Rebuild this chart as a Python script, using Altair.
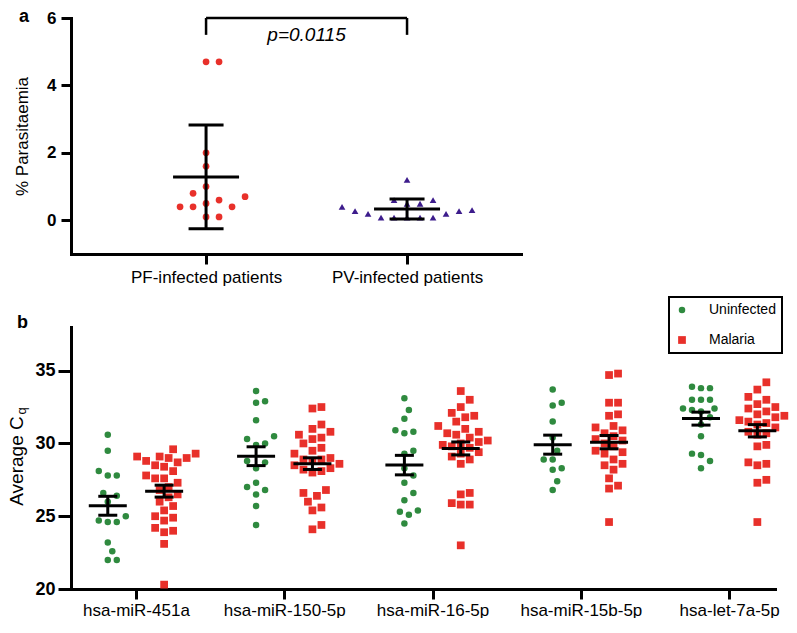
import altair as alt
import pandas as pd
import numpy as np

# ---------------- data: panel a ----------------
a_categories = ["PF-infected patients", "PV-infected patients"]
pf_values = [4.7, 4.7, 2.0, 1.6, 1.0, 0.8, 0.7, 0.6, 0.5, 0.4, 0.4, 0.4, 0.1, 0.1]
pv_values = [1.2, 0.6, 0.6, 0.49, 0.49, 0.4, 0.3, 0.27, 0.27, 0.19, 0.19,
             0.08, 0.08, 0.08, 0.08, 0.08]
p_value_text = "p=0.0115"
a_ticks = [0, 2, 4, 6]

# ---------------- data: panel b ----------------
mirnas = ["hsa-miR-451a", "hsa-miR-150-5p", "hsa-miR-16-5p", "hsa-miR-15b-5p", "hsa-let-7a-5p"]
groups = ["Uninfected", "Malaria"]
uninfected = [
    [30.6, 29.5, 28.1, 27.8, 27.8, 26.6, 26.4, 26.0, 25.0, 24.7, 24.6, 24.6, 23.2, 22.6, 22.0, 22.0],
    [33.6, 32.9, 32.8, 31.6, 30.5, 30.3, 30.0, 29.9, 28.8, 28.7, 28.3, 27.3, 27.0, 26.8, 26.5, 25.7, 24.4],
    [33.1, 32.3, 31.7, 30.9, 30.8, 30.7, 29.5, 29.3, 28.3, 27.8, 27.3, 26.6, 26.1, 25.4, 25.3, 25.1, 24.5],
    [33.7, 32.8, 32.6, 31.5, 30.4, 29.5, 28.9, 28.9, 28.3, 28.2, 27.4, 26.8],
    [33.9, 33.8, 33.8, 33.0, 33.0, 33.0, 32.4, 32.4, 32.3, 32.2, 31.8, 31.3, 30.5, 29.3, 29.2, 28.8, 28.3],
]
malaria = [
    [29.6, 29.3, 29.1, 29.1, 29.0, 29.0, 28.8, 28.7, 28.5, 28.4, 28.1, 27.8, 27.6, 27.6, 27.3, 27.0,
     26.8, 26.5, 26.3, 26.0, 25.7, 25.4, 25.0, 24.9, 24.7, 24.2, 24.0, 23.9, 23.1, 20.3],
    [32.5, 32.4, 31.3, 31.0, 30.8, 30.6, 30.4, 30.3, 30.0, 29.7, 29.5, 29.3, 29.0, 28.9, 28.8, 28.6,
     28.5, 28.3, 28.1, 28.9, 28.2, 28.0, 26.8, 26.6, 26.4, 26.0, 25.6, 25.4, 24.4, 24.1],
    [33.6, 33.0, 32.5, 32.1, 31.9, 31.8, 31.5, 31.2, 31.0, 30.8, 30.7, 30.6, 30.4, 30.2, 30.1, 30.0,
     29.9, 29.8, 29.7, 29.4, 29.3, 29.1, 28.9, 28.6, 26.6, 26.5, 25.9, 25.8, 25.8, 23.0],
    [34.8, 34.7, 32.8, 32.8, 32.0, 31.9, 31.2, 31.1, 30.9, 30.7, 30.5, 30.3, 30.2, 30.0, 29.8, 29.5,
     29.4, 29.3, 28.9, 28.6, 28.5, 28.2, 27.6, 27.1, 26.9, 24.6],
    [34.2, 33.7, 33.2, 33.0, 32.7, 32.5, 32.4, 32.2, 32.0, 31.9, 31.8, 31.6, 31.5, 31.4, 31.3, 31.1,
     30.8, 30.7, 30.6, 29.8, 29.9, 28.7, 28.6, 28.5, 27.5, 27.3, 24.6],
]
b_ticks = [20, 25, 30, 35]

# ---------------- styling / layout ----------------
FONT = "Liberation Sans"
RED = "#e8302a"
PURPLE = "#3d1c8c"
GREEN = "#2f8a3f"

W_A, H_A = 450, 236
XA_DOM = [-0.672, 1.567]
YA_DOM = [-1, 6]
W_B, H_B = 704, 262
XB_DOM = [-0.438, 4.309]
YB_DOM = [20, 38]
GROUP_SHIFT = 0.19

px_ax = W_A / (XA_DOM[1] - XA_DOM[0])
px_ay = H_A / (YA_DOM[1] - YA_DOM[0])
px_bx = W_B / (XB_DOM[1] - XB_DOM[0])
px_by = H_B / (YB_DOM[1] - YB_DOM[0])


def swarm(values, ppu, diameter, step):
    """Greedy beeswarm offsets (in pixels) computed from the values."""
    vals = np.asarray(values, dtype=float)
    order = np.argsort(vals, kind="stable")
    cands = [0.0]
    for j in range(1, 60):
        cands += [j * step, -j * step]
    placed = []
    offs = np.zeros(len(vals))
    for idx in order:
        yp = vals[idx] * ppu
        for c in cands:
            if all((c - px) ** 2 + (yp - py) ** 2 >= diameter ** 2 for py, px in placed):
                offs[idx] = c
                placed.append((yp, c))
                break
    return offs


# ---------------- panel a ----------------
rows = []
for ci, (cat, vals) in enumerate(zip(a_categories, [pf_values, pv_values])):
    offs = swarm(vals, px_ay, 13.0, 6.5)
    for v, o in zip(vals, offs):
        rows.append({"cat": cat, "ci": ci, "value": v, "x": ci + o / px_ax})
df_a = pd.DataFrame(rows)

label_a = "[" + ",".join("'%s'" % c for c in a_categories) + "][datum.value]"

xa_scale = alt.Scale(domain=XA_DOM, nice=False, zero=False)
ya_scale = alt.Scale(domain=YA_DOM, nice=False, zero=False)
xa_axis = alt.Axis(values=[0, 1], labelExpr=label_a, title=None, tickSize=10,
                   labelFontSize=17, labelPadding=5, labelFontWeight="normal")
ya_axis = alt.Axis(values=a_ticks, title="% Parasitaemia", tickSize=10, labelFontSize=17,
                   labelFontWeight="bold", labelPadding=5, titleFontSize=17,
                   titleFontWeight="normal", titlePadding=15)


def XA(f):
    return alt.X(f, scale=xa_scale, axis=xa_axis, title=None)


def YA(f):
    return alt.Y(f, scale=ya_scale, axis=ya_axis, title="% Parasitaemia")


pts_a = alt.Chart(df_a).mark_point(filled=True, opacity=1, size=45).encode(
    x=XA("x:Q"), y=YA("value:Q"),
    color=alt.Color("cat:N", scale=alt.Scale(domain=a_categories, range=[RED, PURPLE]), legend=None),
    shape=alt.Shape("cat:N", scale=alt.Scale(domain=a_categories, range=["circle", "triangle-up"]),
                    legend=None),
)

stats_a = alt.Chart(df_a).transform_aggregate(
    m="mean(value)", sd="stdev(value)", groupby=["ci"]
).transform_calculate(lo="datum.m - datum.sd", hi="datum.m + datum.sd")

mean_a = stats_a.mark_tick(orient="horizontal", size=66, thickness=3, color="black", opacity=1).encode(
    x=XA("ci:Q"), y=YA("m:Q"))
lo_a = stats_a.mark_tick(orient="horizontal", size=35, thickness=3, color="black", opacity=1).encode(
    x=XA("ci:Q"), y=YA("lo:Q"))
hi_a = stats_a.mark_tick(orient="horizontal", size=35, thickness=3, color="black", opacity=1).encode(
    x=XA("ci:Q"), y=YA("hi:Q"))
bar_a = stats_a.mark_rule(strokeWidth=3, color="black", opacity=1).encode(
    x=XA("ci:Q"), y=YA("lo:Q"), y2="hi:Q")

BR_TOP, BR_DROP = 6.0, 0.5
df_br = pd.DataFrame({"x": [0, 0, 1], "x2": [1, 0, 1],
                      "y": [BR_TOP, BR_TOP, BR_TOP],
                      "y2": [BR_TOP, BR_TOP - BR_DROP, BR_TOP - BR_DROP]})
bracket = alt.Chart(df_br).mark_rule(strokeWidth=2.5, color="black").encode(
    x=XA("x:Q"), x2="x2:Q", y=YA("y:Q"), y2="y2:Q")
ptext = alt.Chart(pd.DataFrame({"t": [p_value_text], "x": [0.5], "y": [BR_TOP - BR_DROP]})).mark_text(
    font=FONT, fontSize=19, fontStyle="italic", color="black", baseline="middle").encode(
    x=XA("x:Q"), y=YA("y:Q"), text="t:N")
lab_a = alt.Chart(pd.DataFrame({"t": ["a"]})).mark_text(
    font=FONT, fontSize=18, fontWeight="bold", color="black", align="left", baseline="middle").encode(
    x=alt.value(-52), y=alt.value(-1), text="t:N")

panel_a = alt.layer(pts_a, bar_a, mean_a, lo_a, hi_a, bracket, ptext, lab_a).properties(
    width=W_A, height=H_A)

# ---------------- panel b ----------------
rows = []
for mi, name in enumerate(mirnas):
    for g, series in zip(groups, [uninfected, malaria]):
        vals = series[mi]
        xc = mi + (-GROUP_SHIFT if g == groups[0] else GROUP_SHIFT)
        offs = swarm(vals, px_by, 9.0, 4.5)
        for v, o in zip(vals, offs):
            rows.append({"mirna": name, "group": g, "xc": xc, "value": v, "x": xc + o / px_bx})
df_b = pd.DataFrame(rows)

label_b = "[" + ",".join("'%s'" % c for c in mirnas) + "][datum.value]"
xb_scale = alt.Scale(domain=XB_DOM, nice=False, zero=False)
yb_scale = alt.Scale(domain=YB_DOM, nice=False, zero=False)
xb_axis = alt.Axis(values=list(range(len(mirnas))), labelExpr=label_b, title=None,
                   tickSize=10, labelFontSize=17, labelPadding=3, labelFontWeight="normal")
yb_axis = alt.Axis(values=b_ticks, title=None, tickSize=13, labelFontSize=18,
                   labelFontWeight="bold", labelPadding=3)


def XB(f):
    return alt.X(f, scale=xb_scale, axis=xb_axis, title=None)


def YB(f):
    return alt.Y(f, scale=yb_scale, axis=yb_axis, title=None)


leg = alt.Legend(title=None, orient="none", legendX=598, legendY=-30, labelFontSize=14,
                 labelFont=FONT, labelColor="black", symbolSize=30, rowPadding=16, padding=6,
                 strokeColor="black", labelOffset=20, symbolStrokeWidth=0)

pts_b = alt.Chart(df_b).mark_point(filled=True, opacity=1).encode(
    x=XB("x:Q"), y=YB("value:Q"),
    color=alt.Color("group:N", scale=alt.Scale(domain=groups, range=[GREEN, RED]), legend=leg),
    shape=alt.Shape("group:N", scale=alt.Scale(domain=groups, range=["circle", "square"]), legend=leg),
    size=alt.Size("group:N", scale=alt.Scale(domain=groups, range=[42, 60]), legend=None),
)

stats_b = alt.Chart(df_b).transform_aggregate(
    m="mean(value)", se="stderr(value)", groupby=["xc"]
).transform_calculate(lo="datum.m - datum.se", hi="datum.m + datum.se")

mean_b = stats_b.mark_tick(orient="horizontal", size=38, thickness=3, color="black", opacity=1).encode(
    x=XB("xc:Q"), y=YB("m:Q"))
lo_b = stats_b.mark_tick(orient="horizontal", size=19, thickness=3, color="black", opacity=1).encode(
    x=XB("xc:Q"), y=YB("lo:Q"))
hi_b = stats_b.mark_tick(orient="horizontal", size=19, thickness=3, color="black", opacity=1).encode(
    x=XB("xc:Q"), y=YB("hi:Q"))
bar_b = stats_b.mark_rule(strokeWidth=3, color="black", opacity=1).encode(
    x=XB("xc:Q"), y=YB("lo:Q"), y2="hi:Q")

lab_b = alt.Chart(pd.DataFrame({"t": ["b"]})).mark_text(
    font=FONT, fontSize=18, fontWeight="bold", color="black", align="left", baseline="middle").encode(
    x=alt.value(-54), y=alt.value(-4), text="t:N")
ytitle_b = alt.Chart(pd.DataFrame({"t": ["Average C"]})).mark_text(
    font=FONT, fontSize=19, color="black", angle=270, align="center", baseline="middle").encode(
    x=alt.value(-54), y=alt.value(134), text="t:N")
ysub_b = alt.Chart(pd.DataFrame({"t": ["q"]})).mark_text(
    font=FONT, fontSize=13, color="black", angle=270, align="center", baseline="middle").encode(
    x=alt.value(-49), y=alt.value(84), text="t:N")

panel_b = alt.layer(pts_b, bar_b, mean_b, lo_b, hi_b, lab_b, ytitle_b, ysub_b).properties(
    width=W_B, height=H_B)

chart = alt.vconcat(panel_a, panel_b, spacing=11).resolve_scale(
    color="independent", shape="independent", size="independent"
).resolve_legend(color="independent", shape="independent", size="independent").properties(
    padding={"left": 0, "top": 0, "right": 0, "bottom": 0}
).configure_axis(
    domainWidth=3, domainColor="black", domainCap="square", tickColor="black", tickWidth=3,
    grid=False, labelColor="black", titleColor="black", labelFont=FONT, titleFont=FONT,
).configure_legend(strokeWidth=2).configure_view(stroke=None)

chart.save("out.html", embed_options={"renderer": "svg", "actions": False})
